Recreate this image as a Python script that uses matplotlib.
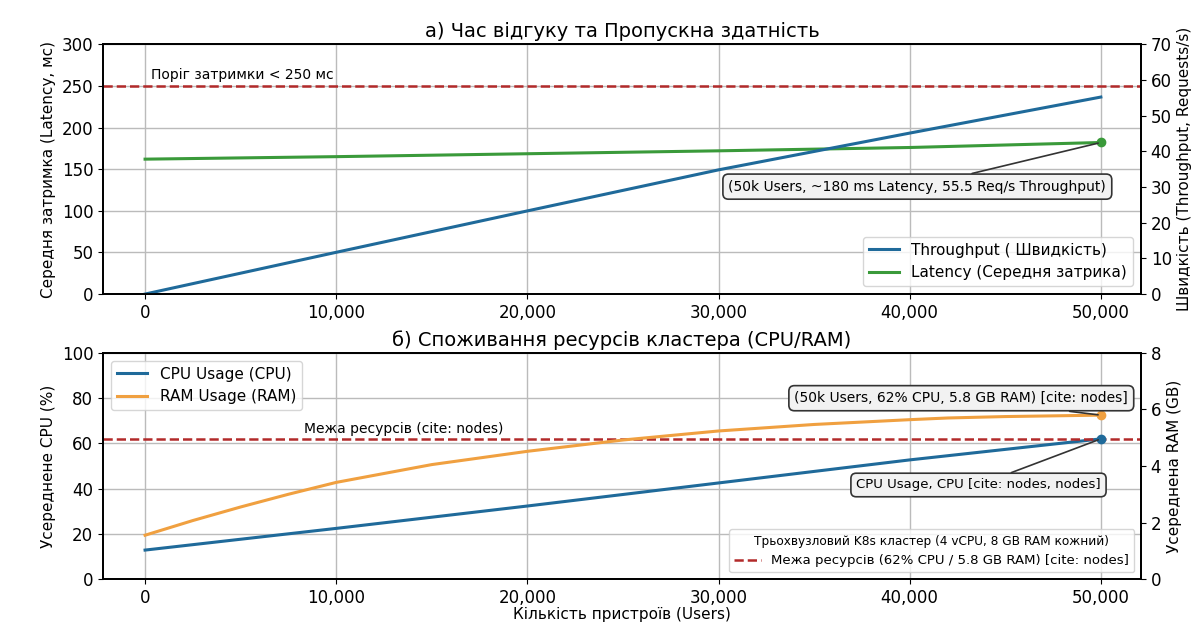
import matplotlib
matplotlib.use("Agg")
import matplotlib.pyplot as plt
from matplotlib.ticker import FuncFormatter

# data
users = [0, 10000, 20000, 30000, 40000, 50000]
throughput = [0.0, 11.7, 23.3, 34.8, 45.1, 55.2]      # req/s (right axis)
latency = [162, 165, 168.5, 172, 176, 182]             # ms (left axis)

users_cpu = [0, 10000, 20000, 30000, 40000, 50000]
cpu = [12.8, 22.4, 32.3, 42.5, 52.7, 62.0]             # %

users_ram = [0, 2500, 5000, 7500, 10000, 15000, 20000, 25000, 30000,
             35000, 40000, 42000, 45000, 50000]
ram = [1.55, 2.07, 2.55, 3.0, 3.42, 4.05, 4.52, 4.92, 5.24,
       5.47, 5.64, 5.7, 5.75, 5.8]                     # GB

latency_limit = 250
cpu_limit = 62

BLUE = "#1f6a9a"
GREEN = "#3a9a3a"
ORANGE = "#f0a040"
RED = "#b22a2a"

plt.rcParams["font.family"] = ["DejaVu Sans"]
plt.rcParams["font.size"] = 11

fig = plt.figure(figsize=(11.91, 6.23), dpi=100)
ax1 = fig.add_axes([0.0865, 0.528, 0.8715, 0.401])
ax2 = fig.add_axes([0.0865, 0.0706, 0.8715, 0.3628])

fmt = FuncFormatter(lambda v, p: f"{int(v):,}")
bbox = dict(boxstyle="round,pad=0.4", fc="#f2f2f2", ec="#333333", lw=1.2)
arrow = dict(arrowstyle="-", color="#333333", lw=1.2, shrinkA=0)

# --- top panel ---
ax1r = ax1.twinx()
ax1.plot(users, latency, color=GREEN, lw=2.2, label="Latency (Середня затрика)")
ax1.plot(users[-1], latency[-1], "o", color=GREEN, ms=6)
ax1r.plot(users, throughput, color=BLUE, lw=2.2, label="Throughput ( Швидкість)")
ax1.axhline(latency_limit, color=RED, ls="--", lw=1.8)
ax1.text(300, latency_limit + 8, "Поріг затримки < 250 мс", fontsize=10)
ax1.set_ylim(0, 300)
ax1r.set_ylim(0, 70)
ax1.set_xlim(-2200, 52100)
ax1.set_yticks(range(0, 301, 50))
ax1r.set_yticks(range(0, 71, 10))
ax1.xaxis.set_major_formatter(fmt)
ax1.grid(True, color="#bbbbbb", lw=1)
ax1.set_ylabel("Середня затримка (Latency, мс)", fontsize=11)
ax1r.set_ylabel("Швидкість (Throughput, Requests/s)", fontsize=11)
ax1.set_title("а) Час відгуку та Пропускна здатність", fontsize=14, pad=5)
ax1.annotate("(50k Users, ~180 ms Latency, 55.5 Req/s Throughput)",
             xy=(users[-1], latency[-1]), xytext=(40400, 129),
             ha="center", va="center", fontsize=10, bbox=bbox,
             arrowprops=arrow, zorder=5)
h1, l1 = ax1r.get_legend_handles_labels()
h2, l2 = ax1.get_legend_handles_labels()
ax1r.legend(h1 + h2, l1 + l2, loc="lower right", fontsize=11)

# --- bottom panel ---
ax2r = ax2.twinx()
ax2.plot(users_cpu, cpu, color=BLUE, lw=2.2, label="CPU Usage (CPU)")
ax2.plot(users_cpu[-1], cpu[-1], "o", color=BLUE, ms=6, zorder=4)
ax2r.plot(users_ram, ram, color=ORANGE, lw=2.2, label="RAM Usage (RAM)")
ax2r.plot(users_ram[-1], ram[-1], "o", color=ORANGE, ms=6)
limit_line = ax2.axhline(cpu_limit, color=RED, ls="--", lw=1.8,
                         label="Межа ресурсів (62% CPU / 5.8 GB RAM) [cite: nodes]")
ax2.text(8300, cpu_limit + 2.5, "Межа ресурсів (cite: nodes)", fontsize=10)
ax2.set_ylim(0, 100)
ax2r.set_ylim(0, 8)
ax2.set_xlim(-2200, 52100)
ax2.set_yticks(range(0, 101, 20))
ax2r.set_yticks(range(0, 9, 2))
ax2.xaxis.set_major_formatter(fmt)
ax2.grid(True, color="#bbbbbb", lw=1)
ax2.set_ylabel("Усереднене CPU (%)", fontsize=11)
ax2r.set_ylabel("Усереднена RAM (GB)", fontsize=11)
ax2.set_xlabel("Кількість пристроїв (Users)", fontsize=11, labelpad=0)
ax2.set_title("б) Споживання ресурсів кластера (CPU/RAM)", fontsize=14, pad=5)
ax2r.annotate("(50k Users, 62% CPU, 5.8 GB RAM) [cite: nodes]",
              xy=(users_ram[-1], ram[-1]), xytext=(42700, 6.4),
              ha="center", va="center", fontsize=10, bbox=bbox,
              arrowprops=arrow, zorder=5)
ax2.annotate("CPU Usage, CPU [cite: nodes, nodes]",
             xy=(users_cpu[-1], cpu[-1]), xytext=(43600, 41.6),
             ha="center", va="center", fontsize=9.5, bbox=bbox,
             arrowprops=arrow, zorder=5)
leg_a = ax2r.legend([ax2.get_lines()[0], ax2r.get_lines()[0]],
                    ["CPU Usage (CPU)", "RAM Usage (RAM)"],
                    loc="upper left", fontsize=11)
ax2r.add_artist(leg_a)
ax2r.legend([limit_line], [limit_line.get_label()], loc="lower right", fontsize=9.5,
            title="Трьохвузловий K8s кластер (4 vCPU, 8 GB RAM кожний)",
            title_fontsize=8.7)

for a in (ax1, ax1r, ax2, ax2r):
    a.tick_params(labelsize=12)
    for s in a.spines.values():
        s.set_linewidth(1.3)

fig.savefig("out.png", dpi=100)
